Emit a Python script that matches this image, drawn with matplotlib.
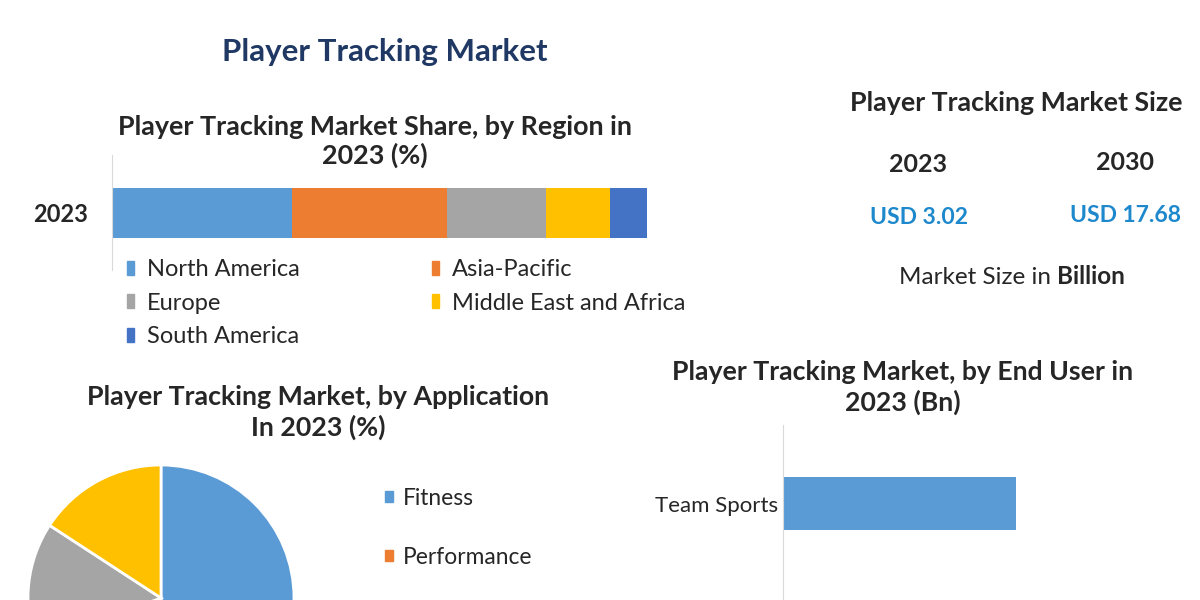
import matplotlib
matplotlib.use("Agg")
import matplotlib.pyplot as plt
from matplotlib.patches import Patch

plt.rcParams['font.family'] = ['Lato', 'DejaVu Sans']

# ---------------- data ----------------
regions = ["North America", "Asia-Pacific", "Europe", "Middle East and Africa", "South America"]
region_share = [33.7, 29.0, 18.5, 11.8, 7.0]
region_colors = ["#5B9BD5", "#ED7D31", "#A5A5A5", "#FFC000", "#4472C4"]
bar_year = "2023"

size_years = ["2023", "2030"]
size_values = ["USD 3.02", "USD 17.68"]

applications = ["Fitness", "Performance", "Application 3", "Application 4"]
app_share = [50.0, 19.5, 14.7, 15.8]
app_colors = ["#5B9BD5", "#ED7D31", "#A5A5A5", "#FFC000"]

end_users = ["Team Sports"]
end_user_values = [1.85]

W, H = 1200, 600
fig = plt.figure(figsize=(12, 6), dpi=100)
fig.patch.set_facecolor("white")

def fx(px):
    return px / W

def fy(py):
    return 1 - py / H

TXT = "#262626"

# ---------------- titles ----------------
fig.text(fx(385), fy(52), "Player Tracking Market", ha="center", va="center",
         fontsize=22.5, fontweight="bold", color="#1F3864")
fig.text(fx(375), fy(141.5), "Player Tracking Market Share, by Region in\n2023 (%)",
         ha="center", va="center", fontsize=19.4, fontweight="bold", color=TXT,
         linespacing=1.2)

# ---------------- stacked bar ----------------
ax1 = fig.add_axes([fx(112), fy(270), fx(535), 115 / H])
left = 0
bar_h = 0.6
for name, val, col in zip(regions, region_share, region_colors):
    ax1.barh([0], [val], left=left, height=bar_h, color=col, label=name)
    left += val
ax1.set_xlim(0, sum(region_share))
px_per_unit = 50 / bar_h
ax1.set_ylim(-57 / px_per_unit, 58 / px_per_unit)
for s in ["top", "right", "bottom"]:
    ax1.spines[s].set_visible(False)
ax1.spines["left"].set_color("#D9D9D9")
ax1.set_xticks([])
ax1.set_yticks([0])
ax1.set_yticklabels([bar_year], fontsize=17, fontweight="bold", color=TXT)
ax1.tick_params(axis="y", length=0, pad=17)

order = [0, 2, 4, 1, 3]
handles = [Patch(color=region_colors[i]) for i in order]
labels = [regions[i] for i in order]
fig.legend(handles, labels, loc="upper left", bbox_to_anchor=(fx(127), fy(259)),
           ncol=2, frameon=False, fontsize=17, handlelength=0.3, handleheight=0.55,
           handletextpad=0.55, labelspacing=0.53, columnspacing=5.6, labelcolor=TXT,
           borderaxespad=0, borderpad=0)

# ---------------- market size block ----------------
fig.text(fx(1016), fy(103), "Player Tracking Market Size", ha="center", va="center",
         fontsize=19.3, fontweight="bold", color=TXT)
for xp, yp, yr, val in zip([918, 1125], [165, 162], size_years, size_values):
    fig.text(fx(xp), fy(yp), yr, ha="center", va="center", fontsize=18,
             fontweight="bold", color=TXT)
    fig.text(fx(xp + 1), fy(yp + 53), val, ha="center", va="center", fontsize=16.5,
             fontweight="bold", color="#1E88CC")
fig.text(fx(1057), fy(277), "Market Size in ", ha="right", va="center",
         fontsize=17.5, color=TXT)
fig.text(fx(1057), fy(277), "Billion", ha="left", va="center", fontsize=17.5,
         fontweight="bold", color=TXT)

# ---------------- pie ----------------
fig.text(fx(318), fy(412.5), "Player Tracking Market, by Application\nIn 2023 (%)",
         ha="center", va="center", fontsize=19.3, fontweight="bold", color=TXT,
         linespacing=1.25)
r_px = 133
ax2 = fig.add_axes([fx(161 - r_px), fy(598 + r_px), fx(2 * r_px), 2 * r_px / H])
wedges, _ = ax2.pie(app_share, colors=app_colors, startangle=90, counterclock=False,
                    wedgeprops=dict(edgecolor="white", linewidth=2))
ax2.set_xlim(-1, 1)
ax2.set_ylim(-1, 1)
ax2.set_aspect("equal")
fig.legend([Patch(color=c) for c in app_colors[:2]], applications[:2], loc="upper left",
           bbox_to_anchor=(fx(385), fy(488)), frameon=False, fontsize=16.4,
           handlelength=0.35, handleheight=0.35, handletextpad=0.45,
           labelspacing=1.66, labelcolor=TXT, borderaxespad=0, borderpad=0)

# ---------------- end user bar ----------------
fig.text(fx(903), fy(387.5), "Player Tracking Market, by End User in\n2023 (Bn)",
         ha="center", va="center", fontsize=19.2, fontweight="bold", color=TXT,
         linespacing=1.25)
ax3 = fig.add_axes([fx(783), fy(745), fx(375), 320 / H])
bh = 0.6
ax3.barh(end_users, end_user_values, height=bh, color="#5B9BD5")
ppu = 53 / bh
ax3.set_ylim(-(320 - 78.5) / ppu, 78.5 / ppu)
ax3.set_xlim(0, end_user_values[0] * 375 / 233)
for s in ["top", "right", "bottom"]:
    ax3.spines[s].set_visible(False)
ax3.spines["left"].set_color("#D9D9D9")
ax3.set_xticks([])
ax3.tick_params(axis="y", length=0, pad=3.6, labelsize=16, labelcolor=TXT)

fig.savefig("out.png", dpi=100, facecolor="white")
